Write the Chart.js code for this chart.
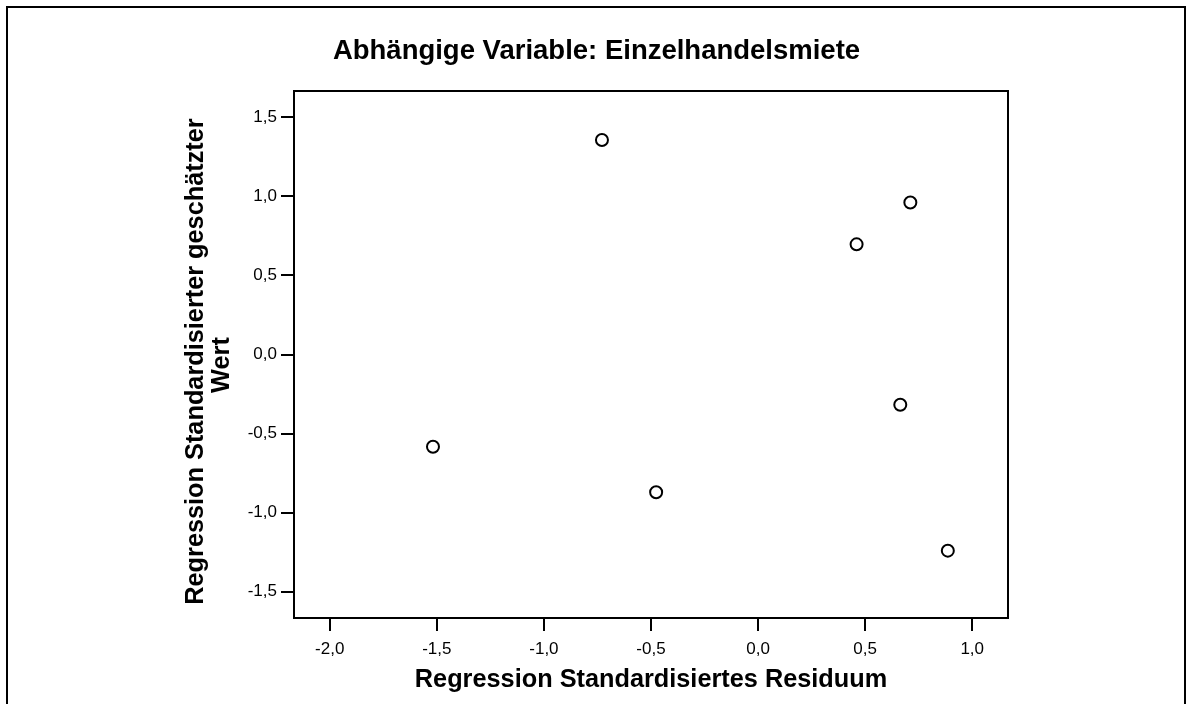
<!DOCTYPE html>
<html>
<head>
<meta charset="utf-8">
<script src="https://cdn.jsdelivr.net/npm/chart.js@4/dist/chart.umd.min.js"></script>
<style>
  html, body { margin: 0; padding: 0; background: #ffffff; }
  #wrap { width: 1188px; height: 704px; position: relative; }
</style>
</head>
<body>
<div id="wrap"><canvas id="c" width="1188" height="704"></canvas></div>
<script>
// ---- data ----
const residuals = [-0.729, 0.711, 0.460, -1.518, -0.476, 0.664, 0.886];
const predicted = [1.357, 0.962, 0.697, -0.584, -0.871, -0.318, -1.241];
const xTicks = [-2.0, -1.5, -1.0, -0.5, 0.0, 0.5, 1.0];
const yTicks = [-1.5, -1.0, -0.5, 0.0, 0.5, 1.0, 1.5];
const xRange = [-2.167, 1.167];
const yRange = [-1.667, 1.667];
const titleText = 'Abhängige Variable: Einzelhandelsmiete';
const xTitle = 'Regression Standardisiertes Residuum';
const yTitle = ['Regression Standardisierter geschätzter  ', 'Wert   '];

const FONT = '"Liberation Sans", Arial, sans-serif';
const fmt = v => Number(v).toFixed(1).replace('.', ',');

const framePlugin = {
  id: 'frames',
  afterDraw(chart) {
    const ctx = chart.ctx;
    const a = chart.chartArea;
    ctx.save();
    ctx.strokeStyle = '#000';
    ctx.lineWidth = 2;
    // plot box
    ctx.strokeRect(a.left, a.top, a.right - a.left, a.bottom - a.top);
    // outer frame (bottom edge is outside the picture)
    ctx.beginPath();
    ctx.moveTo(7, 720);
    ctx.lineTo(7, 7);
    ctx.lineTo(1185, 7);
    ctx.lineTo(1185, 720);
    ctx.stroke();
    ctx.restore();
  }
};

const points = residuals.map((x, i) => ({ x: x, y: predicted[i] }));

new Chart(document.getElementById('c'), {
  type: 'scatter',
  data: {
    datasets: [{
      data: points,
      pointStyle: 'circle',
      pointRadius: 6,
      pointHoverRadius: 6,
      pointBorderWidth: 2,
      pointBorderColor: '#000',
      pointBackgroundColor: '#fff'
    }]
  },
  plugins: [framePlugin],
  options: {
    responsive: false,
    animation: false,
    devicePixelRatio: 1,
    layout: { padding: { top: 11, left: 185, right: 180, bottom: 0 } },
    plugins: {
      legend: { display: false },
      tooltip: { enabled: false },
      title: {
        display: true,
        text: titleText,
        color: '#000',
        font: { family: FONT, size: 27.5, weight: 'bold', lineHeight: 1.2 },
        padding: { top: 24, bottom: 23 }
      }
    },
    scales: {
      x: {
        type: 'linear',
        min: xRange[0],
        max: xRange[1],
        afterBuildTicks: s => { s.ticks = xTicks.map(v => ({ value: v })); },
        afterFit: s => { s.height = 86; },
        grid: { drawOnChartArea: false, drawTicks: true, tickLength: 13, color: '#000', lineWidth: 2 },
        border: { display: true, color: '#000', width: 2 },
        ticks: {
          color: '#000',
          padding: 8,
          maxRotation: 0,
          autoSkip: false,
          font: { family: FONT, size: 17 },
          callback: v => fmt(v)
        },
        title: {
          display: true,
          text: xTitle,
          color: '#000',
          font: { family: FONT, size: 25.3, weight: 'bold', lineHeight: 1.2 },
          padding: { top: 0, bottom: 9 }
        }
      },
      y: {
        type: 'linear',
        min: yRange[0],
        max: yRange[1],
        afterBuildTicks: s => { s.ticks = yTicks.map(v => ({ value: v })); },
        afterFit: s => { s.width = 109; },
        grid: { drawOnChartArea: false, drawTicks: true, tickLength: 13, color: '#000', lineWidth: 2 },
        border: { display: true, color: '#000', width: 2 },
        ticks: {
          color: '#000',
          padding: 4,
          autoSkip: false,
          font: { family: FONT, size: 17 },
          callback: v => fmt(v)
        },
        title: {
          display: true,
          text: yTitle,
          color: '#000',
          font: { family: FONT, size: 25.3, weight: 'bold', lineHeight: '26px' },
          padding: { top: -2, bottom: 0 }
        }
      }
    }
  }
});
</script>
</body>
</html>
